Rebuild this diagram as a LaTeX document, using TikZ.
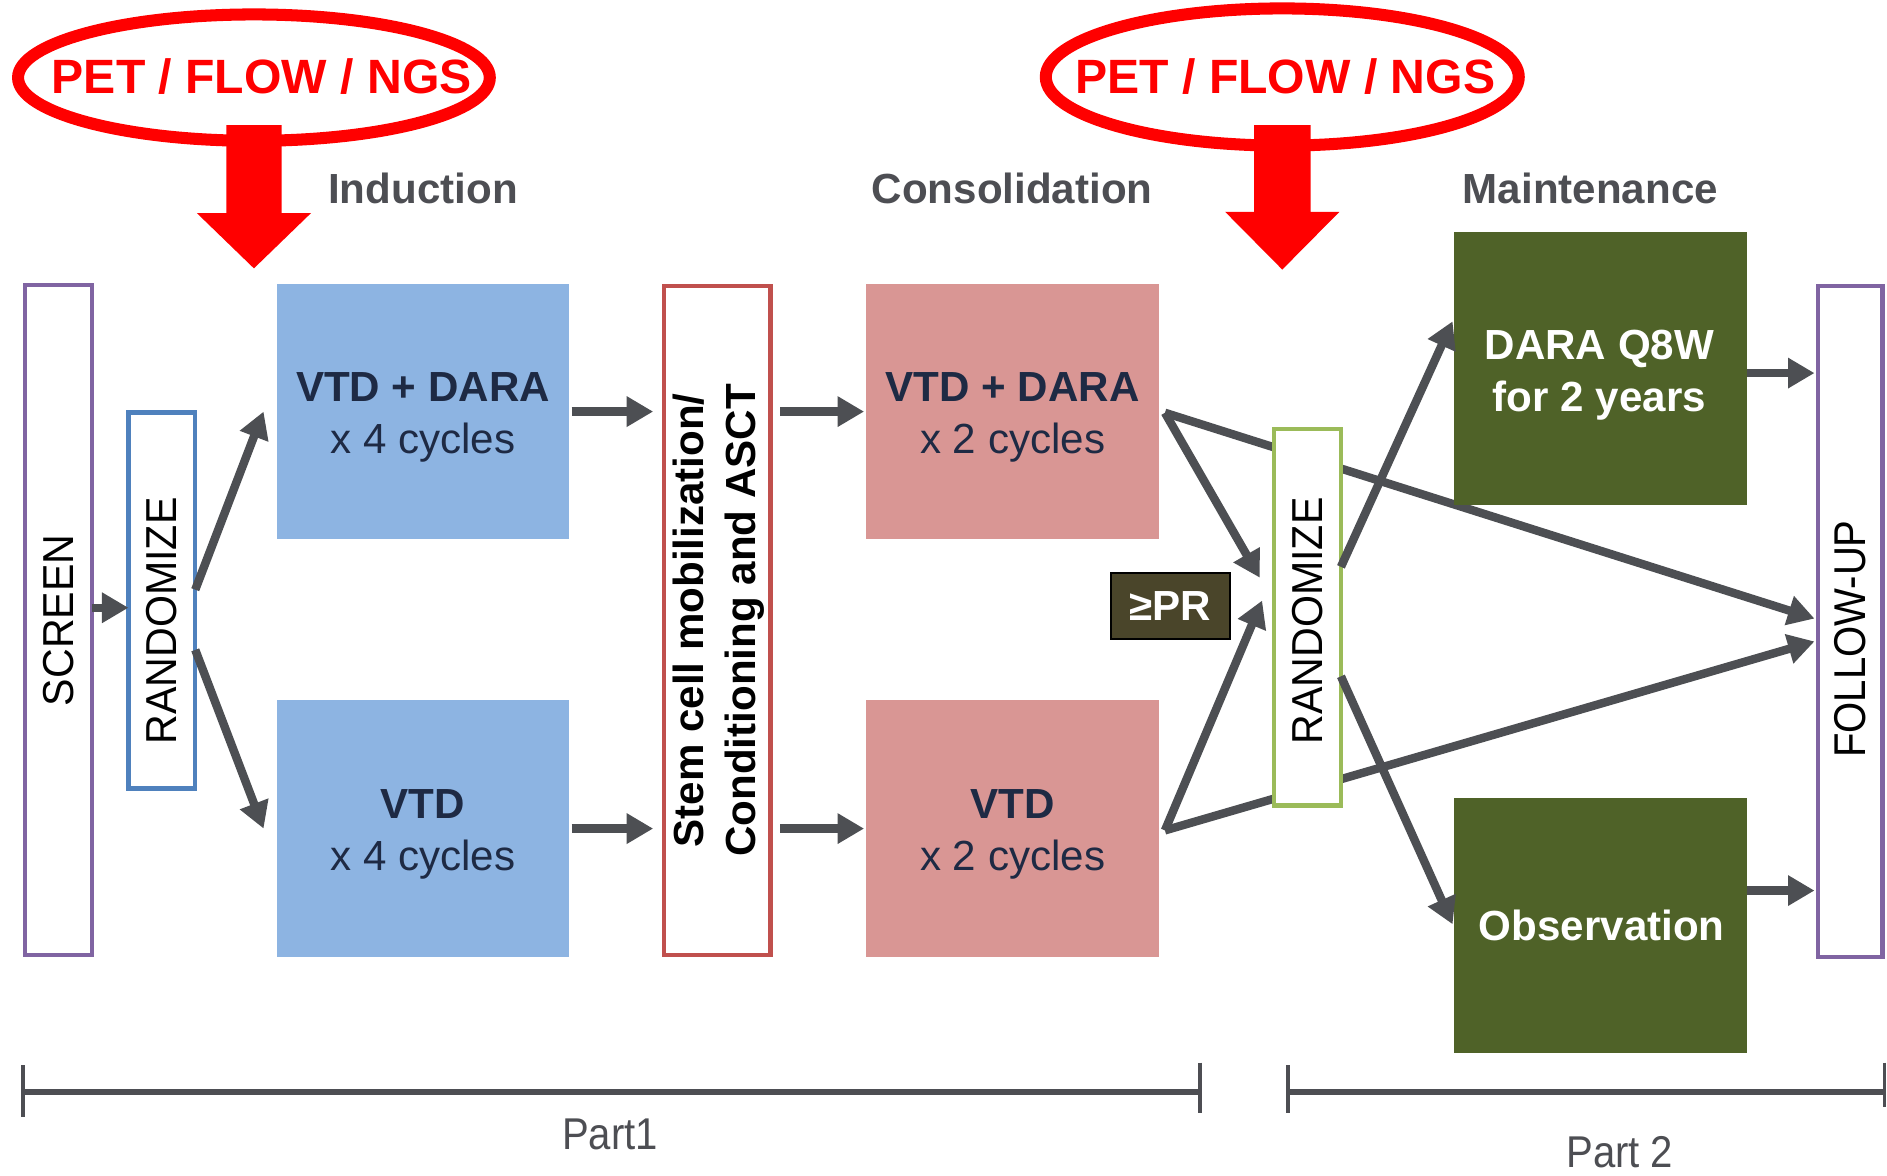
\documentclass[tikz,border=0pt]{standalone}
\usepackage{fontspec}
\setmainfont{Liberation Sans}
\usepackage{graphicx}
\usetikzlibrary{arrows.meta,backgrounds}
\definecolor{arrgrey}{HTML}{4D4F53}
\definecolor{hdrgrey}{HTML}{4D4E53}
\definecolor{bluefill}{HTML}{8DB4E2}
\definecolor{pinkfill}{HTML}{D99694}
\definecolor{greenfill}{HTML}{4F6228}
\definecolor{prfill}{HTML}{4A452A}
\definecolor{navy}{HTML}{1E2A44}
\definecolor{purpleb}{HTML}{8064A2}
\definecolor{blueb}{HTML}{4F81BD}
\definecolor{redb}{HTML}{C0504D}
\definecolor{greenb}{HTML}{9BBB59}
\definecolor{pred}{HTML}{FF0000}
\tikzset{
  box/.style={rectangle, inner sep=0pt, outer sep=0pt},
  vbox/.style={box, draw, line width=3.5pt, fill=white},
  armbox/.style={box, minimum width=243pt, minimum height=212pt},
  armtext/.style={inner sep=0pt, align=center, text=navy, font=\fontsize{35}{43}\selectfont},
  mbox/.style={box, fill=greenfill, minimum width=244pt},
  mtext/.style={inner sep=0pt, align=center, text=white, font=\bfseries\fontsize{35}{43}\selectfont},
  vtext/.style={inner sep=0pt, rotate=90, font=\fontsize{36}{43}\selectfont},
  hdr/.style={inner sep=0pt, anchor=base, text=hdrgrey, font=\bfseries\fontsize{35}{42}\selectfont},
  pet/.style={inner sep=0pt, anchor=base, text=pred, font=\bfseries\fontsize{40}{48}\selectfont},
  parttext/.style={inner sep=0pt, anchor=base, text=hdrgrey, font=\fontsize{37}{44}\selectfont},
  arr/.style={draw=arrgrey, line width=7pt, -{Triangle[length=22pt,width=24pt]}},
  bigred/.style={fill=pred, draw=none},
  ring/.style={draw=pred, line width=10pt},
  barline/.style={draw=hdrgrey, line width=5pt},
  tickline/.style={draw=hdrgrey, line width=3pt}
}
\begin{document}
\begin{tikzpicture}[x=1pt,y=-1pt]
\useasboundingbox (0,0) rectangle (1568,977);

% PET / FLOW / NGS ellipses
\draw[ring] (211,64.5) ellipse [x radius=196pt, y radius=52.5pt];
\draw[ring] (1065.5,64) ellipse [x radius=196.5pt, y radius=57pt];
\node[pet] (pet1) at (217.5,78) {PET / FLOW / NGS};
\node[pet] (pet2) at (1068,78) {PET / FLOW / NGS};

% red arrows
\coordinate (rt1) at (211,223);
\coordinate (rt2) at (1065.5,224);
\fill[bigred] (rt1) -- ++(-47.5,-46) -- ++(24.5,0) -- ++(0,-73) -- ++(46,0) -- ++(0,73) -- ++(24.5,0) -- cycle;
\fill[bigred] (rt2) -- ++(-47.5,-48) -- ++(24,0) -- ++(0,-72) -- ++(47,0) -- ++(0,72) -- ++(24,0) -- cycle;

% headers
\node[hdr] (induction) at (351.5,169) {Induction};
\node[hdr] (consol) at (841,169) {Consolidation};
\node[hdr] (maint) at (1321.5,169) {Maintenance};

% vertical boxes
\node[vbox, draw=purpleb, minimum width=55.5pt, minimum height=556.5pt] (screen) at (48.5,515) {};
\node[vtext] (screentxt) at (48.5,515.5) {\scalebox{0.95}[1]{SCREEN}};
\node[vbox, draw=blueb, minimum width=55.5pt, minimum height=312.5pt] (rand1) at (134.5,499) {};
\node[vtext] (rand1txt) at (134.5,516) {\scalebox{0.95}[1]{RANDOMIZE}};
\node[vbox, draw=redb, minimum width=88.5pt, minimum height=555.5pt] (stem) at (596,515.5) {};
\node[vtext, align=center, font=\bfseries\fontsize{35}{43}\selectfont] (stemtxt) at (597,515.5)
  {Stem cell mobilization/\\Conditioning and ASCT};

% induction arms
\node[armbox, fill=bluefill] (blue1) at (351.5,342) {};
\node[armtext] (blue1txt) at (351.5,347) {{\bfseries VTD + DARA}\\x 4 cycles};
\node[armbox, fill=bluefill, minimum height=213pt] (blue2) at (351.5,688.5) {};
\node[armtext] (blue2txt) at (351.5,693.5) {{\bfseries VTD}\\x 4 cycles};

% consolidation arms
\node[armbox, fill=pinkfill] (pink1) at (841.5,342) {};
\node[armtext] (pink1txt) at (841.5,347) {{\bfseries VTD + DARA}\\x 2 cycles};
\node[armbox, fill=pinkfill, minimum height=213pt] (pink2) at (841.5,688.5) {};
\node[armtext] (pink2txt) at (841.5,693.5) {{\bfseries VTD}\\x 2 cycles};

% >=PR
\node[box, draw=black, line width=2pt, fill=prfill, minimum width=99pt, minimum height=55pt,
  text=white, font=\bfseries\fontsize{35}{42}\selectfont] (pr) at (972.5,503.5) {≥PR};

% second randomization
\node[vbox, draw=greenb, minimum width=55.5pt, minimum height=312.5pt] (rand2) at (1086.5,513) {};
\node[vtext] (rand2txt) at (1086.5,516) {\scalebox{0.95}[1]{RANDOMIZE}};

% maintenance
\node[mbox, minimum height=227pt] (dara) at (1330,306.5) {};
\node[mtext] (daratxt) at (1329,311.5) {DARA Q8W\\for 2 years};
\node[mbox, minimum height=212pt] (obs) at (1330,769) {};
\node[mtext] (obstxt) at (1331,769) {Observation};

% follow-up
\node[vbox, draw=purpleb, minimum width=53.5pt, minimum height=557.5pt] (followup) at (1537.5,516.5) {};
\node[vtext, font=\fontsize{37}{44}\selectfont] (followtxt) at (1537.5,531) {\scalebox{0.9}[1]{FOLLOW-UP}};

% connectors
\coordinate (s1) at ([yshift=10pt]screen.east);
\draw[arr] (s1) -- (s1 -| rand1.west);
\draw[arr] ([yshift=9pt]rand1.east) -- ([xshift=-11pt]blue1.west);
\draw[arr] ([yshift=-41pt]rand1.east) -- ([xshift=-11pt]blue2.west);
\draw[arr, shorten <=2pt, shorten >=9pt] (blue1.east) -- (blue1.east -| stem.west);
\draw[arr, shorten <=2pt, shorten >=9pt] (blue2.east) -- (blue2.east -| stem.west);
\draw[arr, shorten <=8pt, shorten >=2pt] (pink1.west -| stem.east) -- (pink1.west);
\draw[arr, shorten <=8pt, shorten >=2pt] (pink2.west -| stem.east) -- (pink2.west);

\coordinate (pv1) at ([xshift=5pt,yshift=-1pt]pink1.east);
\coordinate (pv2) at ([xshift=5pt,yshift=-1.5pt]pink2.east);
\draw[arr] (pv1) -- ([xshift=-12pt,yshift=33pt]rand2.west);
\draw[arr] (pv2) -- ([xshift=-10pt,yshift=14pt]rand2.west);
\begin{scope}[on background layer]
\draw[arr] (pv1) -- ([xshift=-3pt,yshift=2.5pt]followup.west);
\draw[arr] (pv2) -- ([xshift=-3pt,yshift=-16.5pt]followup.west);
\end{scope}
\draw[arr] ([yshift=42pt]rand2.east) -- ([xshift=-1pt,yshift=39.5pt]dara.west);
\draw[arr] ([yshift=-49pt]rand2.east) -- ([xshift=-1pt,yshift=1pt]obs.west);
\coordinate (d1) at ([yshift=-3.5pt]dara.east);
\draw[arr, shorten >=3pt] (d1) -- (d1 -| followup.west);
\coordinate (o1) at ([yshift=29pt]obs.east);
\draw[arr, shorten >=3pt] (o1) -- (o1 -| followup.west);

% part brackets
\coordinate (p1a) at (19,907);
\coordinate (p1b) at (997,907);
\coordinate (p2a) at (1070,907);
\coordinate (p2b) at (1566,907);
\draw[barline] (p1a) -- (p1b);
\draw[barline] (p2a) -- (p2b);
\draw[tickline] ([yshift=22pt]p1a) -- ([yshift=-21pt]p1a);
\draw[tickline] ([yshift=24pt]p1b) -- ([yshift=-18pt]p1b);
\draw[tickline] ([yshift=22pt]p2a) -- ([yshift=-18pt]p2a);
\draw[tickline] ([yshift=24pt]p2b) -- ([yshift=-13pt]p2b);
\node[parttext] (part1) at (507,955) {\scalebox{0.9}[1]{Part1}};
\node[parttext] (part2) at (1346,970) {\scalebox{0.9}[1]{Part 2}};
\end{tikzpicture}
\end{document}
